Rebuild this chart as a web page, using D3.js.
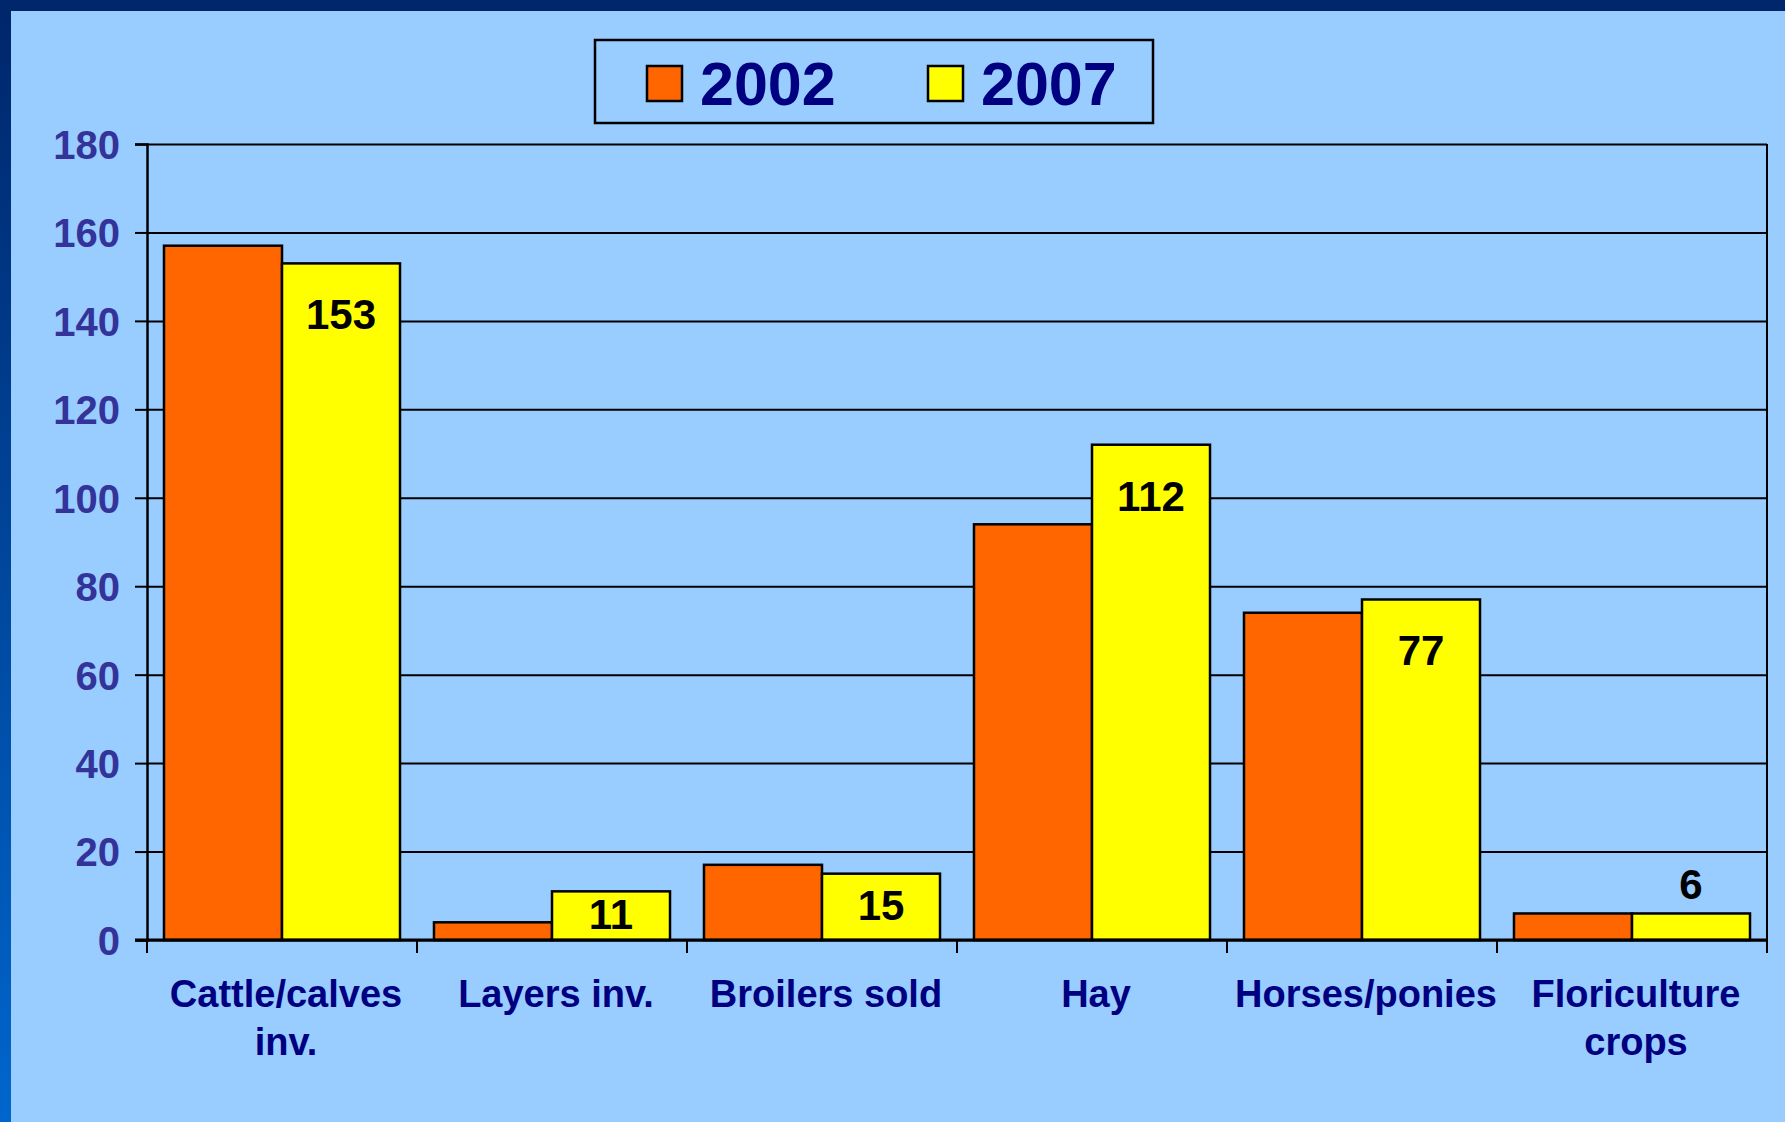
<!DOCTYPE html>
<html>
<head>
<meta charset="utf-8">
<script src="https://cdn.jsdelivr.net/npm/d3@7"></script>
<style>
    body { margin: 0; background: #99ccff; }
    svg { display: block; }
    text { font-family: "Liberation Sans", Arial, sans-serif; font-weight: bold; }
</style>
</head>
<body>
<div id="chart"></div>
<script>
// chart data
var categories = ["Cattle/calves inv.", "Layers inv.", "Broilers sold", "Hay", "Horses/ponies", "Floriculture crops"];
var seriesNames = ["2002", "2007"];
var values2002 = [157, 4, 17, 94, 74, 6];
var values2007 = [153, 11, 15, 112, 77, 6];
var yTicks = [0, 20, 40, 60, 80, 100, 120, 140, 160, 180];

var seriesColors = ["#ff6600", "#ffff00"];

var graphWidth = 1785, graphHeight = 1122;
var margin = {top: 144, right: 18, bottom: 182, left: 147};

var svg = d3.select("#chart")
    .append("svg")
    .attr("width", graphWidth)
    .attr("height", graphHeight);

// slide background + frame
var defs = svg.append("defs");
var grad = defs.append("linearGradient")
    .attr("id", "leftBand")
    .attr("x1", 0).attr("y1", 0).attr("x2", 0).attr("y2", 1);
grad.append("stop").attr("offset", "0%").attr("stop-color", "#00266b");
grad.append("stop").attr("offset", "100%").attr("stop-color", "#0066cc");

svg.append("rect")
    .attr("width", graphWidth).attr("height", graphHeight)
    .attr("fill", "#99ccff");
svg.append("rect")
    .attr("width", 11).attr("height", graphHeight)
    .attr("fill", "url(#leftBand)");
svg.append("rect")
    .attr("width", graphWidth).attr("height", 11)
    .attr("fill", "#00266b");

// scales
var x0 = d3.scaleBand()
    .domain(categories)
    .range([margin.left, graphWidth - margin.right])
    .padding(0);

var x1 = d3.scaleBand()
    .domain(seriesNames)
    .range([0, x0.bandwidth()])
    .paddingInner(0)
    .paddingOuter(0.144);

var y = d3.scaleLinear()
    .domain([0, 180])
    .range([graphHeight - margin.bottom, margin.top]);

var plotLeft = margin.left, plotRight = graphWidth - margin.right;

// gridlines
svg.append("g")
    .attr("class", "grid")
    .attr("transform", "translate(" + plotLeft + ",0)")
    .call(d3.axisLeft(y).tickValues(yTicks).tickSize(-(plotRight - plotLeft)).tickFormat(""))
    .call(function (g) { g.select(".domain").remove(); })
    .selectAll("line")
    .attr("stroke", "#000")
    .attr("stroke-width", 2);

// right border of plot area
svg.append("line")
    .attr("x1", plotRight).attr("x2", plotRight)
    .attr("y1", y(180)).attr("y2", y(0))
    .attr("stroke", "#000").attr("stroke-width", 2);

// bars
var rows = categories.map(function (c, i) {
    return {category: c, values: [values2002[i], values2007[i]]};
});

var groups = svg.append("g")
    .selectAll("g")
    .data(rows)
    .enter().append("g")
    .attr("transform", function (d) { return "translate(" + x0(d.category) + ",0)"; });

groups.selectAll("rect")
    .data(function (d) {
        return d.values.map(function (v, j) { return {name: seriesNames[j], value: v, idx: j}; });
    })
    .enter().append("rect")
    .attr("x", function (d) { return x1(d.name); })
    .attr("y", function (d) { return y(d.value); })
    .attr("width", x1.bandwidth())
    .attr("height", function (d) { return y(0) - y(d.value); })
    .attr("fill", function (d) { return seriesColors[d.idx]; })
    .attr("stroke", "#000")
    .attr("stroke-width", 2.5);

// data labels (2007 only)
var labelSize = 42;
groups.append("text")
    .attr("x", function () { return x1("2007") + x1.bandwidth() / 2; })
    .attr("y", function (d) {
        var v = d.values[1];
        var top = y(v), h = y(0) - top;
        if (h > labelSize * 2) return top + 66;          // inside end
        if (h > labelSize) return top + h / 2 + 13;      // centred in a short bar
        return top - 14;                                   // too short, sit above
    })
    .attr("text-anchor", "middle")
    .attr("font-size", labelSize)
    .attr("fill", "#000")
    .text(function (d) { return d.values[1]; });

// Y axis
var yAxis = svg.append("g")
    .attr("transform", "translate(" + plotLeft + ",0)")
    .call(d3.axisLeft(y).tickValues(yTicks).tickSize(12).tickPadding(15));
yAxis.select(".domain").attr("stroke", "#000").attr("stroke-width", 2.5);
yAxis.selectAll("line").attr("stroke", "#000").attr("stroke-width", 2);
yAxis.selectAll("text")
    .attr("font-size", 40)
    .attr("fill", "#333399")
    .attr("dy", "0.36em");

// X axis line + ticks at category boundaries
var xAxis = svg.append("g")
    .attr("transform", "translate(0," + y(0) + ")");
xAxis.append("line")
    .attr("x1", plotLeft - 12).attr("x2", plotRight)
    .attr("stroke", "#000").attr("stroke-width", 3);
var boundaries = categories.map(function (c) { return x0(c); }).concat([plotRight]);
xAxis.selectAll(".xtick")
    .data(boundaries)
    .enter().append("line")
    .attr("class", "xtick")
    .attr("x1", function (d) { return d; }).attr("x2", function (d) { return d; })
    .attr("y1", 0).attr("y2", 13)
    .attr("stroke", "#000").attr("stroke-width", 2);

// category labels, wrapped to band width
var catLabels = xAxis.selectAll(".cat")
    .data(categories)
    .enter().append("text")
    .attr("class", "cat")
    .attr("text-anchor", "middle")
    .attr("font-size", 38)
    .attr("fill", "#000080")
    .attr("y", 67);

catLabels.each(function (d) {
    var el = d3.select(this), cx = x0(d) + x0.bandwidth() / 2 + 4;
    var words = d.split(" "), line = [];
    var tspan = el.append("tspan").attr("x", cx).attr("dy", 0);
    words.forEach(function (w) {
        line.push(w);
        tspan.text(line.join(" "));
        if (tspan.node().getComputedTextLength() > x0.bandwidth() - 8 && line.length > 1) {
            line.pop();
            tspan.text(line.join(" "));
            line = [w];
            tspan = el.append("tspan").attr("x", cx).attr("dy", 48).text(w);
        }
    });
});

// legend
var legend = svg.append("g").attr("class", "legend");
legend.append("rect")
    .attr("x", 595).attr("y", 40)
    .attr("width", 558).attr("height", 83)
    .attr("fill", "none")
    .attr("stroke", "#000")
    .attr("stroke-width", 2.5);

var legendItems = legend.selectAll(".item")
    .data(seriesNames)
    .enter().append("g")
    .attr("class", "item")
    .attr("transform", function (d, i) { return "translate(" + (647 + i * 281) + ",66)"; });

legendItems.append("rect")
    .attr("width", 35).attr("height", 35)
    .attr("fill", function (d, i) { return seriesColors[i]; })
    .attr("stroke", "#000")
    .attr("stroke-width", 2.5);

legendItems.append("text")
    .attr("x", 53)
    .attr("y", 39)
    .attr("font-size", 61)
    .attr("fill", "#000080")
    .text(function (d) { return d; });
</script>
</body>
</html>
